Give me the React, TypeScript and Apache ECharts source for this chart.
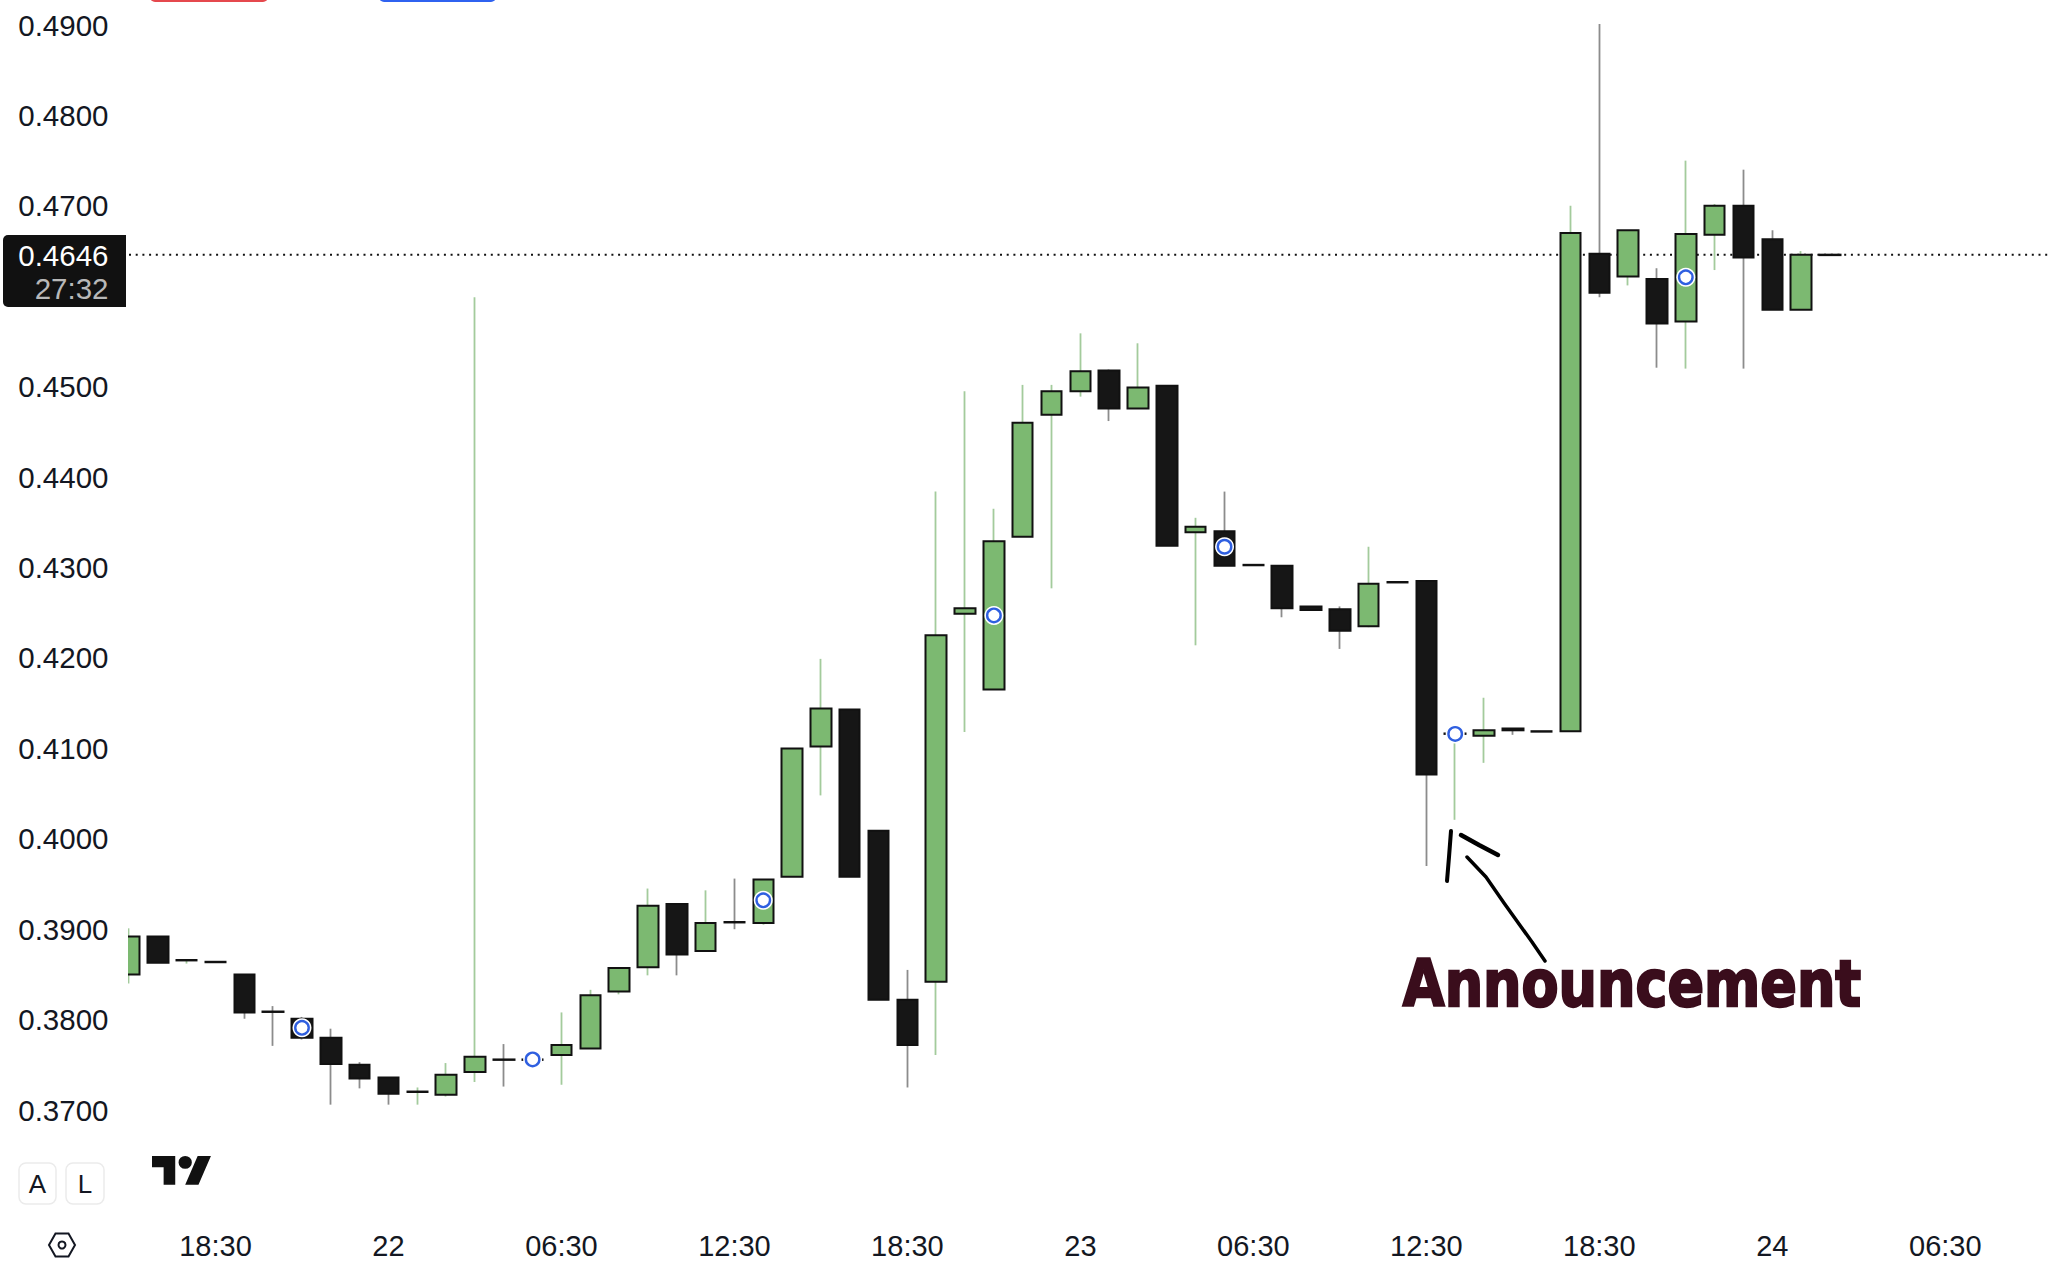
import React, { useEffect, useRef } from "react";
import * as echarts from "echarts";

// [open, close, low, high] per candle
const candles: number[][] = [
  [0.385, 0.3892, 0.384, 0.3901],
  [0.3892, 0.3863, 0.3863, 0.3892],
  [0.38655, 0.3866, 0.3862, 0.3866],
  [0.3864, 0.38635, 0.38635, 0.3864],
  [0.385, 0.3808, 0.3801, 0.385],
  [0.3809, 0.38085, 0.3771, 0.3815],
  [0.3801, 0.378, 0.3778, 0.3803],
  [0.378, 0.3751, 0.3706, 0.379],
  [0.375, 0.3735, 0.3724, 0.3753],
  [0.3736, 0.3718, 0.3706, 0.3736],
  [0.372, 0.37205, 0.3706, 0.3725],
  [0.3717, 0.3739, 0.3715, 0.3752],
  [0.3742, 0.3759, 0.3731, 0.4599],
  [0.3756, 0.37555, 0.3726, 0.3773],
  [0.3756, 0.37555, 0.37555, 0.3756],
  [0.3761, 0.3772, 0.3728, 0.3808],
  [0.3768, 0.3827, 0.3768, 0.3833],
  [0.3831, 0.3857, 0.3828, 0.3858],
  [0.3858, 0.3926, 0.3849, 0.3945],
  [0.3928, 0.3872, 0.3849, 0.3929],
  [0.3876, 0.3907, 0.3876, 0.3943],
  [0.3908, 0.39075, 0.39, 0.3956],
  [0.3907, 0.3955, 0.3905, 0.3955],
  [0.3958, 0.41, 0.3958, 0.41],
  [0.4102, 0.4144, 0.4048, 0.4199],
  [0.4143, 0.3958, 0.3958, 0.4143],
  [0.4009, 0.3822, 0.3822, 0.4009],
  [0.3822, 0.3772, 0.3725, 0.3855],
  [0.3842, 0.4225, 0.3761, 0.4384],
  [0.4249, 0.4255, 0.4118, 0.4495],
  [0.4165, 0.4329, 0.4165, 0.4365],
  [0.4334, 0.446, 0.4334, 0.4502],
  [0.4469, 0.4495, 0.4277, 0.4502],
  [0.4495, 0.4517, 0.4489, 0.4559],
  [0.4518, 0.4476, 0.4462, 0.4519],
  [0.4476, 0.4499, 0.4476, 0.4548],
  [0.4501, 0.4324, 0.4324, 0.4501],
  [0.4339, 0.4345, 0.4214, 0.4355],
  [0.434, 0.4302, 0.4302, 0.4384],
  [0.4303, 0.43025, 0.43025, 0.4303],
  [0.4302, 0.4255, 0.4245, 0.4302],
  [0.4257, 0.4253, 0.4253, 0.4257],
  [0.4254, 0.423, 0.421, 0.4257],
  [0.4235, 0.4282, 0.4234, 0.4323],
  [0.4284, 0.42835, 0.42835, 0.4285],
  [0.4285, 0.4071, 0.397, 0.4285],
  [0.4116, 0.41165, 0.4021, 0.41165],
  [0.4114, 0.412, 0.4084, 0.4156],
  [0.4122, 0.412, 0.4115, 0.4122],
  [0.4119, 0.41185, 0.41185, 0.4119],
  [0.4119, 0.467, 0.4119, 0.47],
  [0.4647, 0.4604, 0.4599, 0.4901],
  [0.4622, 0.4673, 0.4612, 0.4673],
  [0.4619, 0.457, 0.4521, 0.4631],
  [0.4572, 0.4669, 0.452, 0.475],
  [0.4668, 0.47, 0.4629, 0.4702],
  [0.47, 0.4643, 0.452, 0.474],
  [0.4663, 0.4585, 0.4585, 0.4673],
  [0.4585, 0.4646, 0.4585, 0.465],
  [0.4646, 0.46455, 0.46455, 0.4646],
];

// [candle index, price] of the blue circle marks
const markers: number[][] = [
  [6, 0.3791],
  [14, 0.3756],
  [22, 0.3932],
  [30, 0.4247],
  [38, 0.4323],
  [46, 0.4116],
  [54, 0.4621],
];

const timeLabels = ["18:30", "22", "06:30", "12:30", "18:30", "23", "06:30", "12:30", "18:30", "24", "06:30"];
const hiddenPriceLabels = ["0.4600", "0.3600"];
const lastPrice = 0.4646;
const lastPriceText = "0.4646";
const countdownText = "27:32";
const annotationText = "Announcement";

const categoryCount = 68;
const categories: string[] = [];
for (let i = 0; i < categoryCount; i++) {
  const k = (i - 3) / 6;
  categories.push(Number.isInteger(k) && timeLabels[k] ? timeLabels[k] : "");
}
const lastPriceLine = categories.map(() => lastPrice);

const FONT = "'Liberation Sans', Arial, sans-serif";

echarts.graphic.registerShape(
  "tvlogo",
  echarts.graphic.extendPath(
    "M14 22H7V11H0V4h14v18ZM28 22h-8l7.5-18h8L28 22ZM24 8a4 4 0 1 1-8 0a4 4 0 1 1 8 0Z",
    {}
  ) as any
);

export default function App() {
  const ref = useRef<HTMLDivElement>(null);
  useEffect(() => {
    const chart = echarts.init(ref.current!, undefined, { renderer: "svg" });
    const wickData = candles.map((c) => [c[0], c[1], c[2], c[3]]);
    const bodyData = candles.map((c) => [c[0], c[1], Math.min(c[0], c[1]), Math.max(c[0], c[1])]);
    chart.setOption({
      animation: false,
      backgroundColor: "#ffffff",
      grid: { left: 129, top: 25, width: 1931.6, height: 1175.5, containLabel: false, outerBoundsMode: "none" },
      xAxis: {
        type: "category",
        data: categories,
        boundaryGap: false,
        axisLine: { show: false },
        axisTick: { show: false },
        splitLine: { show: false },
        axisLabel: { interval: 0, margin: 31, fontSize: 29, fontFamily: FONT, color: "#131722", showMinLabel: true, showMaxLabel: true },
      },
      yAxis: {
        type: "value",
        min: 0.36,
        max: 0.49,
        interval: 0.01,
        axisLine: { show: false },
        axisTick: { show: false },
        splitLine: { show: false },
        axisLabel: {
          margin: 20.5,
          fontSize: 29.5,
          fontFamily: FONT,
          color: "#131722",
          showMinLabel: true,
          showMaxLabel: true,
          formatter: (v: number) => {
            const s = v.toFixed(4);
            return hiddenPriceLabels.includes(s) ? "" : s;
          },
        },
      },
      series: [
        {
          type: "line",
          name: "last price",
          z: 1,
          data: lastPriceLine,
          symbol: "none",
          silent: true,
          lineStyle: { color: "#111111", type: [2, 4.7], width: 2 },
        },
        {
          type: "candlestick",
          name: "wicks",
          z: 2,
          barWidth: 1,
          data: wickData,
          itemStyle: {
            color: "#a3cb9c",
            color0: "#8c8c8c",
            borderColor: "#a3cb9c",
            borderColor0: "#8c8c8c",
            borderWidth: 1.8,
          },
        },
        {
          type: "candlestick",
          name: "bodies",
          z: 3,
          barWidth: 21,
          data: bodyData,
          itemStyle: {
            color: "#7cb971",
            color0: "#161616",
            borderColor: "#111111",
            borderColor0: "#111111",
            borderWidth: 2,
          },
        },
        {
          type: "scatter",
          name: "halo",
          z: 4,
          symbolSize: 19,
          data: markers,
          itemStyle: { color: "#ffffff", opacity: 1 },
        },
        {
          type: "scatter",
          name: "marks",
          z: 5,
          symbolSize: 13.5,
          data: markers,
          itemStyle: { color: "#ffffff", borderColor: "#2f5fe0", borderWidth: 2.4, opacity: 1 },
        },
      ],
      graphic: [
        { type: "rect", z: 9, shape: { x: 109, y: 880, width: 19, height: 110 }, style: { fill: "#ffffff" } },
        { type: "rect", z: 10, shape: { x: 150, y: -10, width: 118, height: 12, r: 5 }, style: { fill: "#e5484d" } },
        { type: "rect", z: 10, shape: { x: 379, y: -10, width: 117, height: 12, r: 5 }, style: { fill: "#2f62f0" } },
        { type: "rect", z: 10, shape: { x: 3, y: 235, width: 123, height: 72, r: [5, 0, 0, 5] }, style: { fill: "#111111" } },
        { type: "text", z: 11, x: 108.5, y: 255, style: { text: lastPriceText, fill: "#ffffff", font: `29.5px ${FONT}`, align: "right", verticalAlign: "middle" } },
        { type: "text", z: 11, x: 108.5, y: 288, style: { text: countdownText, fill: "#b8b8b8", font: `29.5px ${FONT}`, align: "right", verticalAlign: "middle" } },
        { type: "rect", z: 10, shape: { x: 19, y: 1163, width: 37, height: 41, r: 7 }, style: { fill: "#ffffff", stroke: "#ebebeb", lineWidth: 1.5 } },
        { type: "rect", z: 10, shape: { x: 66, y: 1163, width: 38, height: 41, r: 7 }, style: { fill: "#ffffff", stroke: "#ebebeb", lineWidth: 1.5 } },
        { type: "text", z: 11, x: 37.5, y: 1184, style: { text: "A", fill: "#131722", font: `26px ${FONT}`, align: "center", verticalAlign: "middle" } },
        { type: "text", z: 11, x: 85, y: 1184, style: { text: "L", fill: "#131722", font: `26px ${FONT}`, align: "center", verticalAlign: "middle" } },
        { type: "tvlogo", z: 10, x: 152, y: 1149.6, scaleX: 1.66, scaleY: 1.6, style: { fill: "#111111" } },
        {
          type: "polygon",
          z: 10,
          shape: { points: [[49, 1245], [55.5, 1233.5], [68.5, 1233.5], [75, 1245], [68.5, 1256.5], [55.5, 1256.5]] },
          style: { fill: "none", stroke: "#131722", lineWidth: 2 },
        },
        { type: "circle", z: 10, shape: { cx: 62, cy: 1245, r: 3.5 }, style: { fill: "none", stroke: "#131722", lineWidth: 2 } },
        {
          type: "polyline",
          z: 10,
          shape: { points: [[1451, 831], [1449, 857], [1447, 881]] },
          style: { stroke: "#000000", fill: "none", lineWidth: 4, lineCap: "round", lineJoin: "round" },
        },
        {
          type: "polyline",
          z: 10,
          shape: { points: [[1461, 835], [1479, 845], [1498, 855]] },
          style: { stroke: "#000000", fill: "none", lineWidth: 4.5, lineCap: "round", lineJoin: "round" },
        },
        {
          type: "polyline",
          z: 10,
          shape: { points: [[1467, 857], [1486, 877], [1504, 903], [1532, 942], [1545, 961]] },
          style: { stroke: "#000000", fill: "none", lineWidth: 3.5, lineCap: "round", lineJoin: "round" },
        },
        {
          type: "text",
          z: 11,
          x: 1632,
          y: 984,
          scaleY: 1.2,
          originX: 0,
          originY: 0,
          style: {
            text: annotationText,
            fill: "#3a0d1c",
            stroke: "#3a0d1c",
            lineWidth: 2,
            lineJoin: "round",
            font: `bold 54px 'DejaVu Sans', sans-serif`,
            align: "center",
            verticalAlign: "middle",
          },
        },
      ],
    });
    return () => chart.dispose();
  }, []);
  return <div ref={ref} style={{ position: "fixed", left: 0, top: 0, width: 2048, height: 1268, background: "#fff" }} />;
}
